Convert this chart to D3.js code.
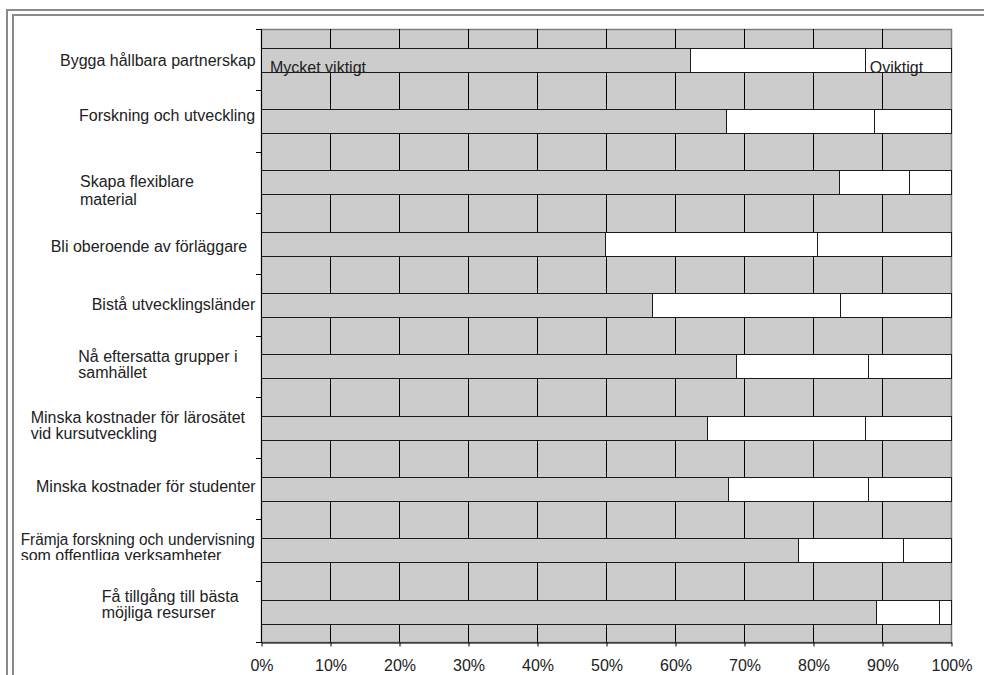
<!DOCTYPE html>
<html>
<head>
<meta charset="utf-8">
<script src="https://cdn.jsdelivr.net/npm/d3@7"></script>
<style>
  html, body { margin: 0; padding: 0; background: #ffffff; }
  svg { display: block; font-family: "Liberation Sans", Arial, sans-serif; }
</style>
</head>
<body>
<svg id="chart" width="984" height="675"></svg>
<script>
// ---------------- DATA ----------------
const categories = [
  "Bygga hållbara partnerskap",
  "Forskning och utveckling",
  "Skapa flexiblare material",
  "Bli oberoende av förläggare",
  "Bistå utvecklingsländer",
  "Nå eftersatta grupper i samhället",
  "Minska kostnader för lärosätet vid kursutveckling",
  "Minska kostnader för studenter",
  "Främja forskning och undervisning som offentliga verksamheter",
  "Få tillgång till bästa möjliga resurser"
];
const categoryLines = [
  ["Bygga hållbara partnerskap"],
  ["Forskning och utveckling"],
  ["Skapa flexiblare", "material"],
  ["Bli oberoende av förläggare"],
  ["Bistå utvecklingsländer"],
  ["Nå eftersatta grupper i", "samhället"],
  ["Minska kostnader för lärosätet", "vid kursutveckling"],
  ["Minska kostnader för studenter"],
  ["Främja forskning och undervisning", "som offentliga verksamheter"],
  ["Få tillgång till bästa", "möjliga resurser"]
];
const seriesNames = ["Mycket viktigt", "Viktigt", "Oviktigt"];
const mycketViktigt = [62.2, 67.4, 83.8, 49.9, 56.6, 68.8, 64.7, 67.7, 77.8, 89.1];
const viktigt       = [25.3, 21.4, 10.1, 30.7, 27.3, 19.1, 22.8, 20.2, 15.2,  9.1];
const oviktigt      = [12.5, 11.2,  6.1, 19.4, 16.1, 12.1, 12.5, 12.1,  7.0,  1.8];
const xTicks = [0, 10, 20, 30, 40, 50, 60, 70, 80, 90, 100];
const xTickLabels = ["0%", "10%", "20%", "30%", "40%", "50%", "60%", "70%", "80%", "90%", "100%"];

// ---------------- LAYOUT (not data) ----------------
const W = 984, H = 675;
const plot = { left: 261, right: 951, top: 29, bottom: 642 };
const labelLeft   = [60, 79, 80, 50.7, 91.7, 78.3, 30.7, 36, 20.7, 101.7];
const labelFirstDy = [6, 0, 4.5, 8.5, 5, -4.5, -4, 3, -5.5, -9];
const labelLineH  = [17, 17, 18.3, 17, 17, 16.5, 16, 17, 16.5, 16];
const labelClipBottom = [null, null, null, null, null, null, null, null, 560, null];
const labelFitWidth = [null, null, null, null, null, null, null, null, 234, null]; // first line only
const fontSize = 16;

const svg = d3.select("#chart");

// double frame (partially visible)
svg.append("path")
  .attr("d", `M7,${H + 5} L7,10 L${W + 5},10`)
  .attr("fill", "none").attr("stroke", "#8a8a8a").attr("stroke-width", 2);
svg.append("path")
  .attr("d", `M13,${H + 5} L13,15 L${W + 5},15`)
  .attr("fill", "none").attr("stroke", "#8a8a8a").attr("stroke-width", 2);

// scales
const x = d3.scaleLinear().domain([0, 100]).range([plot.left, plot.right]);
const y = d3.scaleBand().domain(categories).range([plot.top, plot.bottom])
  .paddingInner(1.6 / 2.6).paddingOuter(0.8 / 2.6);
const step = y.step();

// plot area background
svg.append("rect")
  .attr("x", plot.left + 0.5).attr("y", plot.top + 0.5)
  .attr("width", plot.right - plot.left).attr("height", plot.bottom - plot.top)
  .attr("fill", "#cccccc").attr("stroke", "#808080").attr("stroke-width", 1.5);

// vertical gridlines
svg.append("g").selectAll("line")
  .data(xTicks.filter(t => t > 0 && t < 100))
  .join("line")
  .attr("x1", d => Math.round(x(d)) + 0.5).attr("x2", d => Math.round(x(d)) + 0.5)
  .attr("y1", plot.top).attr("y2", plot.bottom)
  .attr("stroke", "#000").attr("stroke-width", 1);

// stacked data
const table = categories.map((c, i) => ({
  cat: c,
  "Mycket viktigt": mycketViktigt[i],
  "Viktigt": viktigt[i],
  "Oviktigt": oviktigt[i]
}));
const stacked = d3.stack().keys(seriesNames)(table);
const fills = { "Mycket viktigt": "#cccccc", "Viktigt": "#ffffff", "Oviktigt": "#ffffff" };

const bars = svg.append("g");
stacked.forEach(s => {
  bars.append("g").selectAll("rect")
    .data(s)
    .join("rect")
    .attr("x", d => Math.round(x(d[0])) + 0.5)
    .attr("y", d => Math.round(y(d.data.cat)) + 0.5)
    .attr("width", d => Math.round(x(d[1])) - Math.round(x(d[0])))
    .attr("height", Math.round(y.bandwidth()))
    .attr("fill", fills[s.key])
    .attr("stroke", "#1a1a1a").attr("stroke-width", 1);
});

// series name data labels on first bar
const firstCat = categories[0];
svg.append("text")
  .attr("x", x(stacked[0][0][0]) + 9)
  .attr("y", y(firstCat) + y.bandwidth() / 2 + 13)
  .attr("font-size", fontSize).attr("fill", "#222")
  .text(seriesNames[0]);
svg.append("text")
  .attr("x", x(stacked[2][0][0]) + 5)
  .attr("y", y(firstCat) + y.bandwidth() / 2 + 13)
  .attr("font-size", fontSize).attr("fill", "#222")
  .text(seriesNames[2]);

// y axis line and ticks (at band boundaries)
const yAxisG = svg.append("g");
yAxisG.append("line")
  .attr("x1", plot.left + 0.5).attr("x2", plot.left + 0.5)
  .attr("y1", plot.top).attr("y2", plot.bottom + 1)
  .attr("stroke", "#000");
yAxisG.selectAll("line.tick")
  .data(d3.range(categories.length + 1))
  .join("line").attr("class", "tick")
  .attr("x1", plot.left - 5).attr("x2", plot.left)
  .attr("y1", i => Math.round(plot.top + i * step) + 0.5)
  .attr("y2", i => Math.round(plot.top + i * step) + 0.5)
  .attr("stroke", "#000");

// x axis
const xAxis = d3.axisBottom(x).tickValues(xTicks)
  .tickFormat((d, i) => xTickLabels[i]).tickSizeInner(4).tickSizeOuter(0).tickPadding(13);
const xAxisG = svg.append("g")
  .attr("transform", `translate(0.5,${plot.bottom + 0.5})`)
  .call(xAxis);
xAxisG.select(".domain").attr("stroke", "#000");
xAxisG.selectAll(".tick line").attr("stroke", "#000");
xAxisG.selectAll(".tick text")
  .attr("font-size", fontSize).attr("font-family", "'Liberation Sans', Arial, sans-serif")
  .attr("fill", "#222").attr("dy", "0.71em");

// category labels
const defs = svg.append("defs");
const labelsG = svg.append("g");
categories.forEach((c, i) => {
  const cy = y(c) + y.bandwidth() / 2;
  const t = labelsG.append("text")
    .attr("font-size", fontSize).attr("fill", "#222");
  if (labelClipBottom[i] !== null) {
    const id = "clip" + i;
    defs.append("clipPath").attr("id", id)
      .append("rect").attr("x", 0).attr("y", 0)
      .attr("width", plot.left).attr("height", labelClipBottom[i]);
    t.attr("clip-path", `url(#${id})`);
  }
  categoryLines[i].forEach((ln, j) => {
    const ts = t.append("tspan")
      .attr("x", labelLeft[i])
      .attr("y", cy + labelFirstDy[i] + j * labelLineH[i])
      .text(ln);
    if (j === 0 && labelFitWidth[i] !== null) {
      ts.attr("textLength", labelFitWidth[i]).attr("lengthAdjust", "spacingAndGlyphs");
    }
  });
});
</script>
</body>
</html>
